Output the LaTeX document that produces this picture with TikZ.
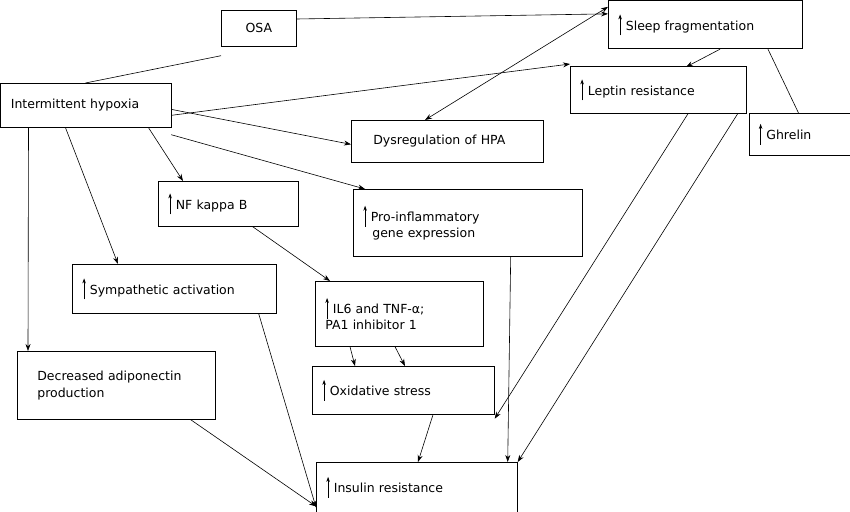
\documentclass[tikz,border=0pt]{standalone}
\usepackage{fontspec}
\setmainfont{DejaVu Sans}
\usetikzlibrary{arrows.meta}
\newcommand{\upar}{\tikz[baseline=0pt]\draw[line width=0.7pt,-{Stealth[length=5pt,width=3.5pt]}] (0,-5pt)--(0,16pt);\hspace{4pt}}
\tikzset{
 box/.style={draw, line width=0.7pt, anchor=north west, align=left, inner xsep=10pt, font=\fontsize{12.5}{17}\selectfont},
 arr/.style={line width=0.6pt,-{Stealth[length=7pt,width=5pt]}},
 ln/.style={line width=0.6pt}
}
\begin{document}
\begin{tikzpicture}[x=1pt,y=-1pt]
\useasboundingbox (0,0) rectangle (850,511);
\node[box,minimum width=75,minimum height=36,align=center] (osa) at (221,10) {OSA};
\node[box,minimum width=194,minimum height=48,text width=174] (sf) at (608,0.5) {\upar Sleep fragmentation};
\node[box,minimum width=170,minimum height=44,text width=150,inner xsep=10pt] (ih) at (0.5,83) {Intermittent hypoxia};
\node[box,minimum width=176,minimum height=47,text width=156] (lr) at (570,66) {\upar Leptin resistance};
\node[box,minimum width=101,minimum height=42,text width=81] (gh) at (748.5,113) {\upar Ghrelin};
\node[box,minimum width=192,minimum height=42,text width=172,inner xsep=10pt] (hpa) at (351,120) {\hspace{12pt}Dysregulation of HPA};
\node[box,minimum width=140,minimum height=45,text width=120] (nf) at (158,181) {\upar NF kappa B};
\node[box,minimum width=229,minimum height=67,text width=209,font=\fontsize{12.5}{16}\selectfont] (pi) at (353,189) {\upar Pro-inflammatory\\\hspace{9pt}gene expression};
\node[box,minimum width=204,minimum height=49,text width=184] (sa) at (72,264) {\upar Sympathetic activation};
\node[box,minimum width=168,minimum height=65,text width=148,font=\fontsize{12.5}{16}\selectfont] (il) at (315,281) {\upar IL6 and TNF-α;\\PA1 inhibitor 1};
\node[box,minimum width=198,minimum height=68,text width=178,inner xsep=10pt] (ad) at (17,351) {\hspace{10pt}Decreased adiponectin\\\hspace{10pt}production};
\node[box,minimum width=182,minimum height=48,text width=162] (ox) at (312,366) {\upar Oxidative stress};
\node[box,minimum width=201,minimum height=50,text width=181] (ins) at (316,462) {\upar Insulin resistance};

\draw[arr] ([yshift=-9]osa.north east) -- ([yshift=11]sf.west);
\draw[ln] ([yshift=-9]osa.south west) -- ([xshift=85,yshift=0]ih.north west);
\draw[arr] ([yshift=-10]ih.east) -- ([xshift=0,yshift=2]lr.north west);
\draw[arr,{Stealth[length=7pt,width=5pt]}-{Stealth[length=7pt,width=5pt]}] ([xshift=74]hpa.north west) -- ([yshift=18]sf.west);
\draw[arr] ([yshift=-4]ih.east) -- ([yshift=-3]hpa.west);
\draw[arr] ([xshift=148]ih.south west) -- ([xshift=25]nf.north west);
\draw[arr] ([yshift=-7]ih.south east) -- ([xshift=12]pi.north west);
\draw[arr] ([xshift=65]ih.south west) -- ([xshift=46]sa.north west);
\draw[arr] ([xshift=28]ih.south west) -- ([xshift=11]ad.north west);
\draw[arr] ([xshift=112]sf.south west) -- ([xshift=116,yshift=-1]lr.north west);
\draw[ln] ([xshift=50]gh.north west) -- ([xshift=160]sf.south west);
\draw[arr] ([xshift=-46]nf.south east) -- ([xshift=15]il.north west);
\draw[arr] ([xshift=35]il.south west) -- ([xshift=43]ox.north west);
\draw[arr] ([xshift=80]il.south west) -- ([xshift=93]ox.north west);
\draw[arr] ([xshift=118]lr.south west) -- ([yshift=-4]ox.south east);
\draw[arr] ([xshift=-9]lr.south east) -- (ins.north east);
\draw[arr] ([xshift=-72]pi.south east) -- ([xshift=-10]ins.north east);
\draw[arr] ([xshift=-18]sa.south east) -- ([yshift=-20]ins.west);
\draw[arr] ([xshift=-25]ad.south east) -- ([yshift=-19]ins.west);
\draw[arr] ([xshift=121]ox.south west) -- ([xshift=102]ins.north west);
\end{tikzpicture}
\end{document}
